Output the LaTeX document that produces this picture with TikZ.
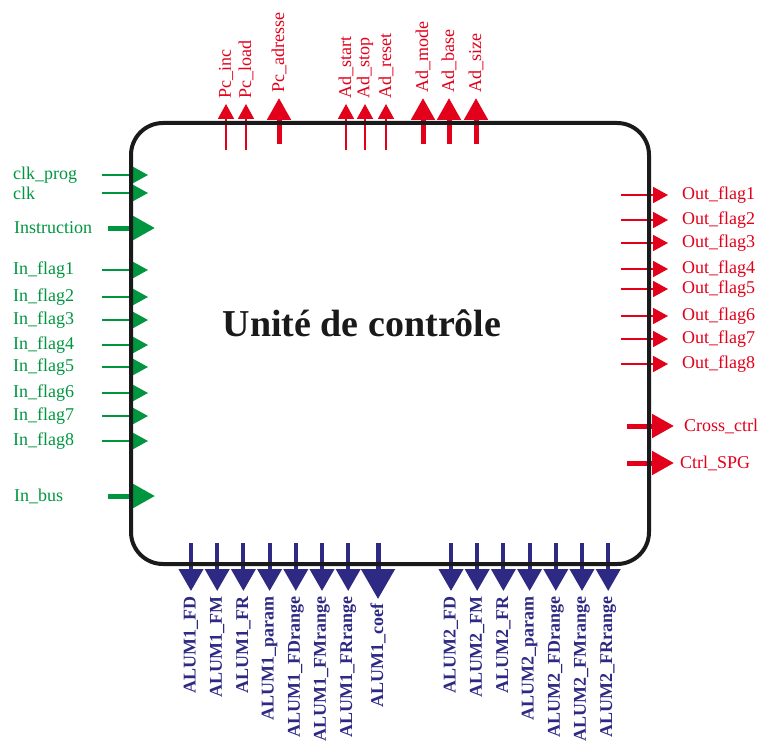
\documentclass[tikz,border=0pt]{standalone}
\usepackage{fontspec}
\setmainfont{Liberation Serif}
\usepackage{tikz}
\usetikzlibrary{arrows.meta,positioning}
\definecolor{sigin}{RGB}{0,150,64}
\definecolor{sigout}{RGB}{226,0,26}
\definecolor{alum}{RGB}{46,42,132}
\definecolor{frame}{RGB}{26,26,26}

\begin{document}
\begin{tikzpicture}[
    x=1pt, y=-1pt,
    unit/.style={draw=frame, line width=4pt, rounded corners=32pt, minimum width=518pt, minimum height=441pt},
    title/.style={font=\bfseries\fontsize{38}{40}\selectfont, text=frame, inner sep=0pt},
    inlbl/.style={font=\fontsize{18}{20}\selectfont, text=sigin, inner sep=0pt},
    outlbl/.style={font=\fontsize{18}{20}\selectfont, text=sigout, inner sep=0pt},
    buslbl/.style={font=\bfseries\fontsize{18}{20}\selectfont, text=alum, inner sep=0pt, rotate=90, anchor=east},
    inthin/.style={draw=sigin, line width=1.8pt, -{Triangle[width=16pt,length=15pt]}},
    inthick/.style={draw=sigin, line width=5pt, -{Triangle[width=23pt,length=22pt]}},
    outthin/.style={draw=sigout, line width=1.8pt, -{Triangle[width=16pt,length=15pt]}},
    outthick/.style={draw=sigout, line width=5pt, -{Triangle[width=23pt,length=22pt]}},
    busthin/.style={draw=alum, line width=4pt, -{Triangle[width=24pt,length=22pt]}},
    busthick/.style={draw=alum, line width=5pt, -{Triangle[width=33pt,length=30pt]}}
]
\useasboundingbox (0,0) rectangle (762,746);

% Left side: inputs
\foreach \txt/\yy [count=\i] in {clk\_prog/175, clk/193, In\_flag1/270, In\_flag2/297, In\_flag3/320, In\_flag4/345, In\_flag5/367, In\_flag6/393, In\_flag7/416, In\_flag8/441} {
  \coordinate (in\i-s) at (102,\yy);
  \coordinate (in\i-e) at (148,\yy);
  \node[inlbl, anchor=west] (in\i) at (13,\yy) {\txt};
  \draw[inthin] (in\i-s) -- (in\i-e);
}
\foreach \txt/\yy [count=\i] in {Instruction/228, In\_bus/496} {
  \coordinate (inb\i-s) at (108,\yy);
  \coordinate (inb\i-e) at (155,\yy);
  \node[inlbl, anchor=west] (inb\i) at (14,\yy) {\txt};
  \draw[inthick] (inb\i-s) -- (inb\i-e);
}

% Top side: outputs
\foreach \txt/\xx [count=\i] in {Pc\_inc/226, Pc\_load/246, Ad\_start/346, Ad\_stop/365, Ad\_reset/386} {
  \coordinate (top\i-s) at (\xx,150);
  \coordinate (top\i-e) at (\xx,104);
  \node[outlbl, rotate=90, anchor=west] (top\i) at (\xx,99) {\txt};
  \draw[outthin] (top\i-s) -- (top\i-e);
}
\foreach \txt/\xx [count=\i] in {Pc\_adresse/279, Ad\_mode/423, Ad\_base/449, Ad\_size/476} {
  \coordinate (topb\i-s) at (\xx,144);
  \coordinate (topb\i-e) at (\xx,98);
  \node[outlbl, rotate=90, anchor=west] (topb\i) at (\xx,93) {\txt};
  \draw[outthick] (topb\i-s) -- (topb\i-e);
}

% Right side: outputs
\foreach \n/\yy in {1/195, 2/220, 3/243, 4/269, 5/289, 6/316, 7/339, 8/364} {
  \coordinate (out\n-s) at (621,\yy);
  \coordinate (out\n-e) at (668,\yy);
  \node[outlbl, anchor=west] (out\n) at (682,\yy) {Out\_flag\n};
  \draw[outthin] (out\n-s) -- (out\n-e);
}
\foreach \txt/\yy/\xl [count=\i] in {Cross\_ctrl/426/684, Ctrl\_SPG/463/680} {
  \coordinate (ctl\i-s) at (627,\yy);
  \coordinate (ctl\i-e) at (674,\yy);
  \node[outlbl, anchor=west] (ctl\i) at (\xl,\yy) {\txt};
  \draw[outthick] (ctl\i-s) -- (ctl\i-e);
}

% Bottom side: ALU buses
\foreach \k/\xs in {1/191, 2/451} {
  \foreach \sig [count=\j] in {FD, FM, FR, param, FDrange, FMrange, FRrange} {
    \pgfmathsetmacro{\xx}{\xs+26.2*(\j-1)}
    \coordinate (alu\k\j-s) at (\xx,543);
    \coordinate (alu\k\j-e) at (\xx,591);
    \node[buslbl] (alu\k\j) at (\xx,596) {ALUM\k\_\sig};
    \draw[busthin] (alu\k\j-s) -- (alu\k\j-e);
  }
}
\coordinate (coef-s) at (378,543);
\coordinate (coef-e) at (378,599);
\node[buslbl] (coef) at (378,603) {ALUM1\_coef};
\draw[busthick] (coef-s) -- (coef-e);

% Block
\node[unit] (uc) at (390,343.5) {};
\node[title, anchor=base] (ttl) at (362,336) {Unité de contrôle};

\end{tikzpicture}
\end{document}
